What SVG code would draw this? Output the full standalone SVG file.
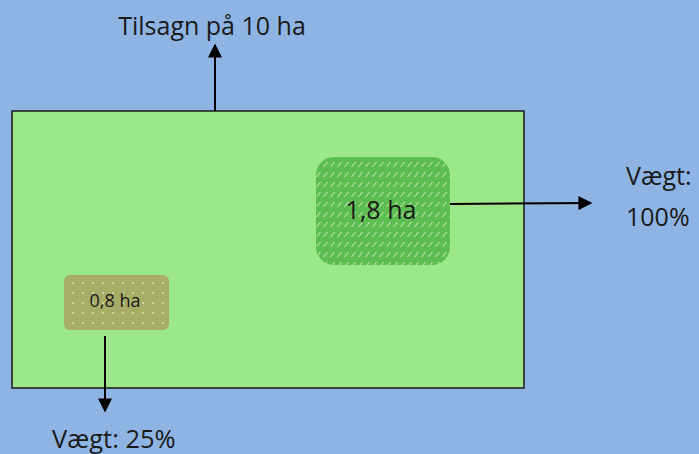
<svg xmlns="http://www.w3.org/2000/svg" width="699" height="454" viewBox="0 0 699 454">
<style>
text{font-family:"Open Sans","Liberation Sans",sans-serif;fill:#1a1a1a}
.conn line{stroke:#000;stroke-width:2;fill:none}
</style>
<defs>
<marker id="ah" viewBox="0 0 10 10" refX="9" refY="5" markerWidth="7.5" markerHeight="7" orient="auto" markerUnits="strokeWidth">
<path d="M0,0 L10,5 L0,10 z" fill="#000"/>
</marker>
<pattern id="hatch" width="7" height="10" patternUnits="userSpaceOnUse">
<rect width="7" height="10" fill="#5cbd50"/>
<line x1="1.5" y1="7" x2="5.5" y2="2" stroke="#b9e2a8" stroke-width="1.2"/>
</pattern>
<pattern id="dots" width="10" height="10" patternUnits="userSpaceOnUse">
<rect width="10" height="10" fill="#a7ac66"/>
<circle cx="3" cy="3" r="1.1" fill="#d7dcae"/>
</pattern>
</defs>
<rect width="699" height="454" fill="#8eb4e3"/>
<g id="field">
<rect x="12" y="111" width="512" height="277" fill="#9de78b" stroke="#1a1a1a" stroke-width="1.5"/>
</g>
<g id="area18">
<rect x="316" y="157" width="134" height="108" rx="18" fill="url(#hatch)"/>
<text x="381" y="219" font-size="25" text-anchor="middle">1,8 ha</text>
</g>
<g id="area08">
<rect x="64" y="275" width="105" height="55" rx="6" fill="url(#dots)"/>
<text x="115" y="307" font-size="18" text-anchor="middle">0,8 ha</text>
</g>
<g class="conn" id="connectors">
<line x1="215" y1="111" x2="215" y2="45" marker-end="url(#ah)"/>
<line x1="450" y1="204" x2="591" y2="203" marker-end="url(#ah)"/>
<line x1="105" y1="336" x2="105" y2="411" marker-end="url(#ah)"/>
</g>
<g id="label-top"><text x="212" y="35" font-size="25" text-anchor="middle">Tilsagn på 10 ha</text></g>
<g id="label-right"><text x="626" y="185" font-size="25">Vægt:</text><text x="626" y="226" font-size="25">100%</text></g>
<g id="label-bottom"><text x="52" y="448" font-size="25.5">Vægt: 25%</text></g>
</svg>
